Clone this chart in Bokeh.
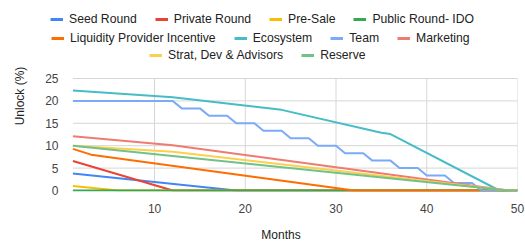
from bokeh.plotting import figure
from bokeh.models import Range1d, FixedTicker, Legend, LegendItem
from bokeh.embed import file_html
from bokeh.resources import INLINE

# ---- data (months, % locked) ----
seed_x = [1, 19, 50]
seed_y = [3.8, 0, 0]

private_x = [1, 12, 50]
private_y = [6.6, 0, 0]

presale_x = [1, 6, 50]
presale_y = [1.0, 0, 0]

public_x = [1, 50]
public_y = [0, 0]

lp_x = [1, 3, 32, 50]
lp_y = [9.3, 8.0, 0, 0]

eco_x = [1, 12, 24, 35, 36, 48, 50]
eco_y = [22.3, 20.8, 18.0, 12.9, 12.6, 0, 0]

team_x = [1, 12, 13, 15, 16, 18, 19, 21, 22, 24, 25, 27, 28, 30, 31, 33, 34, 36,
          37, 39, 40, 42, 43, 45, 46, 50]
team_y = [20, 20, 18.33, 18.33, 16.67, 16.67, 15, 15, 13.33, 13.33, 11.67, 11.67,
          10, 10, 8.33, 8.33, 6.67, 6.67, 5, 5, 3.33, 3.33, 1.67, 1.67, 0, 0]

mkt_x = [1, 12, 49, 50]
mkt_y = [12.1, 10.1, 0, 0]

strat_x = [1, 12, 49, 50]
strat_y = [10.0, 8.65, 0, 0]

reserve_x = [1, 49, 50]
reserve_y = [10.0, 0, 0]

names = ["Seed Round", "Private Round", "Pre-Sale", "Public Round- IDO",
         "Liquidity Provider Incentive", "Ecosystem", "Team", "Marketing",
         "Strat, Dev & Advisors", "Reserve"]
colors = ["#4285F4", "#EA4335", "#FBBC04", "#34A853", "#FF6D01",
          "#46BDC6", "#7BAAF7", "#F07B72", "#FCD04F", "#71C287"]
xs = [seed_x, private_x, presale_x, public_x, lp_x, eco_x, team_x, mkt_x, strat_x, reserve_x]
ys = [seed_y, private_y, presale_y, public_y, lp_y, eco_y, team_y, mkt_y, strat_y, reserve_y]

x_ticks = [10, 20, 30, 40, 50]
y_ticks = [0, 5, 10, 15, 20, 25]
x_min, x_max = 1, 50
y_min, y_max = 0, 25

FONT = "Liberation Sans"
GRID = "#d6d6d6"

# frame spans the legend area too, so the legend (clipped to the frame) stays visible
p = figure(width=525, height=245, output_backend="svg", toolbar_location=None,
           x_range=Range1d(-2.13, 50), y_range=Range1d(-0.223, 42.41),
           min_border_left=44, min_border_right=8, min_border_top=0, min_border_bottom=54)
p.outline_line_color = None
p.background_fill_color = "white"
p.border_fill_color = "white"
p.grid.visible = False

# grid lines limited to the data area
p.segment(x0=x_ticks, y0=[y_min] * len(x_ticks), x1=x_ticks, y1=[y_max] * len(x_ticks),
          line_color=GRID, line_width=1)
p.segment(x0=[x_min] * len(y_ticks), y0=y_ticks, x1=[x_max] * len(y_ticks), y1=y_ticks,
          line_color=GRID, line_width=1)

xa = p.xaxis[0]
ya = p.yaxis[0]
xa.ticker = FixedTicker(ticks=x_ticks)
ya.ticker = FixedTicker(ticks=y_ticks)
xa.bounds = (x_min, x_max)
ya.bounds = (y_min, y_max)
for ax in (xa, ya):
    ax.axis_line_color = None
    ax.major_tick_line_color = None
    ax.minor_tick_line_color = None
    ax.major_label_text_font = FONT
    ax.major_label_text_font_size = "12px"
    ax.major_label_text_color = "#444444"
    ax.axis_label_text_font = FONT
    ax.axis_label_text_font_size = "12px"
    ax.axis_label_text_color = "#222222"
    ax.axis_label_text_font_style = "normal"
xa.axis_label = "Months"
ya.axis_label = "Unlock (%)"
xa.major_label_standoff = 6
xa.axis_label_standoff = 12
ya.major_label_standoff = -20
ya.axis_label_standoff = 15

nan = float("nan")
legend_items = []
for name, c, x, y in zip(names, colors, xs, ys):
    p.line(x=x, y=y, line_color=c, line_width=2, line_join="round")
    dummy = p.line(x=[nan], y=[nan], line_color=c, line_width=3)
    legend_items.append(LegendItem(label=name, renderers=[dummy]))

rows = [legend_items[0:4], legend_items[4:8], legend_items[8:10]]
locs = [(6, 165), (7, 146.3), (105, 128.7)]
for items, loc in zip(rows, locs):
    lg = Legend(items=items, orientation="horizontal", location=loc,
                glyph_width=13, glyph_height=12, label_height=12,
                label_standoff=6, spacing=18, padding=3, margin=0,
                border_line_color=None, background_fill_alpha=0,
                label_text_font=FONT, label_text_font_size="12.2px",
                label_text_color="#222222")
    p.add_layout(lg, "center")

open("out.html", "w").write(file_html(p, INLINE))
